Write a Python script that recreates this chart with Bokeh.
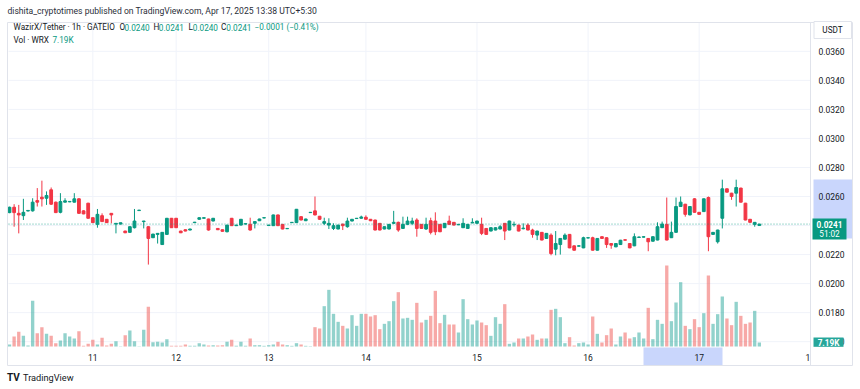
from bokeh.plotting import figure
from bokeh.models import ColumnDataSource, Range1d, Label
from bokeh.core.properties import value
from bokeh.embed import file_html
from bokeh.resources import INLINE

# ---------------- data (WazirX/Tether, 1h, GATEIO) ----------------
bar_index = list(range(163))
opens = [0.02489, 0.02526, 0.02484, 0.02468, 0.02500, 0.02501, 0.02572, 0.02595, 0.02588, 0.02646,
         0.02561, 0.02491, 0.02561, 0.02563, 0.02561, 0.02584, 0.02501, 0.02554, 0.02454, 0.02408,
         0.02468, 0.02443, 0.02484, 0.02410, 0.02410, 0.02362, 0.02353, 0.02385, 0.02503, 0.02427,
         0.02392, 0.02316, 0.02339, 0.02269, 0.02339, 0.02450, 0.02450, 0.02362, 0.02371, 0.02369,
         0.02420, 0.02443, 0.02450, 0.02445, 0.02431, 0.02380, 0.02371, 0.02357, 0.02450, 0.02399,
         0.02403, 0.02410, 0.02408, 0.02415, 0.02433, 0.02452, 0.02400, 0.02399, 0.02473, 0.02408,
         0.02378, 0.02420, 0.02420, 0.02461, 0.02433, 0.02489, 0.02501, 0.02464, 0.02415, 0.02403,
         0.02380, 0.02376, 0.02410, 0.02392, 0.02431, 0.02448, 0.02450, 0.02457, 0.02443, 0.02438,
         0.02415, 0.02376, 0.02376, 0.02415, 0.02422, 0.02380, 0.02408, 0.02415, 0.02438, 0.02408,
         0.02376, 0.02433, 0.02431, 0.02408, 0.02385, 0.02431, 0.02422, 0.02405, 0.02385, 0.02380,
         0.02418, 0.02415, 0.02408, 0.02380, 0.02362, 0.02369, 0.02376, 0.02415, 0.02369, 0.02405,
         0.02403, 0.02378, 0.02403, 0.02369, 0.02334, 0.02353, 0.02311, 0.02334, 0.02237, 0.02269,
         0.02306, 0.02339, 0.02260, 0.02258, 0.02246, 0.02314, 0.02316, 0.02230, 0.02323, 0.02316,
         0.02276, 0.02253, 0.02269, 0.02302, 0.02276, 0.02260, 0.02318, 0.02320, 0.02311, 0.02292,
         0.02300, 0.02385, 0.02408, 0.02316, 0.02353, 0.02531, 0.02547, 0.02473, 0.02584, 0.02491,
         0.02496, 0.02593, 0.02339, 0.02288, 0.02450, 0.02653, 0.02623, 0.02623, 0.02658, 0.02554,
         0.02443, 0.02408, 0.02400]
highs = [0.02530, 0.02547, 0.02542, 0.02584, 0.02506, 0.02588, 0.02658, 0.02709, 0.02635, 0.02662,
         0.02565, 0.02623, 0.02588, 0.02568, 0.02623, 0.02588, 0.02505, 0.02556, 0.02456, 0.02514,
         0.02484, 0.02445, 0.02486, 0.02416, 0.02420, 0.02364, 0.02394, 0.02514, 0.02508, 0.02432,
         0.02394, 0.02343, 0.02348, 0.02355, 0.02452, 0.02452, 0.02452, 0.02364, 0.02373, 0.02378,
         0.02425, 0.02456, 0.02456, 0.02447, 0.02452, 0.02382, 0.02373, 0.02405, 0.02452, 0.02405,
         0.02445, 0.02415, 0.02454, 0.02429, 0.02447, 0.02456, 0.02405, 0.02475, 0.02475, 0.02410,
         0.02382, 0.02424, 0.02514, 0.02463, 0.02447, 0.02493, 0.02600, 0.02466, 0.02454, 0.02450,
         0.02415, 0.02405, 0.02412, 0.02454, 0.02445, 0.02452, 0.02468, 0.02470, 0.02445, 0.02440,
         0.02417, 0.02394, 0.02410, 0.02501, 0.02427, 0.02461, 0.02461, 0.02454, 0.02450, 0.02410,
         0.02454, 0.02454, 0.02491, 0.02410, 0.02417, 0.02468, 0.02424, 0.02410, 0.02450, 0.02410,
         0.02450, 0.02433, 0.02454, 0.02382, 0.02387, 0.02387, 0.02403, 0.02417, 0.02433, 0.02427,
         0.02405, 0.02415, 0.02415, 0.02378, 0.02364, 0.02355, 0.02348, 0.02346, 0.02362, 0.02313,
         0.02346, 0.02341, 0.02262, 0.02264, 0.02323, 0.02318, 0.02323, 0.02313, 0.02325, 0.02318,
         0.02278, 0.02278, 0.02301, 0.02304, 0.02278, 0.02346, 0.02323, 0.02325, 0.02313, 0.02325,
         0.02422, 0.02427, 0.02593, 0.02427, 0.02593, 0.02600, 0.02549, 0.02533, 0.02588, 0.02493,
         0.02586, 0.02600, 0.02355, 0.02371, 0.02716, 0.02655, 0.02625, 0.02716, 0.02660, 0.02556,
         0.02445, 0.02424, 0.02410]
lows = [0.02485, 0.02392, 0.02346, 0.02438, 0.02498, 0.02496, 0.02531, 0.02531, 0.02542, 0.02542,
        0.02486, 0.02484, 0.02559, 0.02561, 0.02559, 0.02480, 0.02478, 0.02448, 0.02418, 0.02385,
        0.02425, 0.02418, 0.02415, 0.02346, 0.02408, 0.02348, 0.02350, 0.02380, 0.02502, 0.02380,
        0.02131, 0.02314, 0.02276, 0.02266, 0.02337, 0.02383, 0.02383, 0.02348, 0.02360, 0.02367,
        0.02418, 0.02441, 0.02448, 0.02365, 0.02429, 0.02369, 0.02358, 0.02353, 0.02397, 0.02397,
        0.02401, 0.02408, 0.02365, 0.02380, 0.02431, 0.02450, 0.02398, 0.02397, 0.02397, 0.02374,
        0.02376, 0.02418, 0.02418, 0.02436, 0.02431, 0.02487, 0.02470, 0.02440, 0.02403, 0.02376,
        0.02369, 0.02374, 0.02369, 0.02385, 0.02429, 0.02446, 0.02448, 0.02441, 0.02431, 0.02367,
        0.02367, 0.02374, 0.02374, 0.02410, 0.02357, 0.02376, 0.02403, 0.02403, 0.02323, 0.02378,
        0.02370, 0.02339, 0.02334, 0.02355, 0.02383, 0.02406, 0.02401, 0.02403, 0.02383, 0.02378,
        0.02416, 0.02413, 0.02334, 0.02337, 0.02360, 0.02367, 0.02374, 0.02300, 0.02367, 0.02392,
        0.02360, 0.02374, 0.02367, 0.02316, 0.02300, 0.02298, 0.02309, 0.02195, 0.02195, 0.02200,
        0.02304, 0.02244, 0.02228, 0.02256, 0.02244, 0.02312, 0.02228, 0.02228, 0.02309, 0.02246,
        0.02240, 0.02251, 0.02267, 0.02297, 0.02244, 0.02258, 0.02316, 0.02318, 0.02223, 0.02290,
        0.02298, 0.02383, 0.02298, 0.02314, 0.02351, 0.02529, 0.02461, 0.02471, 0.02489, 0.02475,
        0.02494, 0.02223, 0.02337, 0.02276, 0.02380, 0.02628, 0.02577, 0.02531, 0.02559, 0.02436,
        0.02420, 0.02392, 0.02400]
closes = [0.02526, 0.02489, 0.02473, 0.02491, 0.02504, 0.02561, 0.02561, 0.02584, 0.02607, 0.02547,
          0.02489, 0.02565, 0.02570, 0.02566, 0.02584, 0.02484, 0.02480, 0.02450, 0.02420, 0.02477,
          0.02427, 0.02420, 0.02473, 0.02415, 0.02419, 0.02350, 0.02392, 0.02431, 0.02506, 0.02431,
          0.02311, 0.02341, 0.02346, 0.02353, 0.02450, 0.02385, 0.02385, 0.02350, 0.02362, 0.02376,
          0.02423, 0.02454, 0.02454, 0.02369, 0.02450, 0.02371, 0.02360, 0.02403, 0.02399, 0.02403,
          0.02443, 0.02413, 0.02369, 0.02427, 0.02445, 0.02454, 0.02403, 0.02473, 0.02399, 0.02376,
          0.02380, 0.02422, 0.02512, 0.02438, 0.02445, 0.02491, 0.02473, 0.02443, 0.02427, 0.02415,
          0.02399, 0.02403, 0.02399, 0.02431, 0.02443, 0.02450, 0.02459, 0.02443, 0.02433, 0.02369,
          0.02369, 0.02392, 0.02408, 0.02422, 0.02369, 0.02408, 0.02431, 0.02431, 0.02380, 0.02380,
          0.02408, 0.02353, 0.02357, 0.02357, 0.02415, 0.02408, 0.02403, 0.02408, 0.02415, 0.02408,
          0.02422, 0.02431, 0.02346, 0.02339, 0.02385, 0.02385, 0.02392, 0.02362, 0.02431, 0.02408,
          0.02362, 0.02382, 0.02369, 0.02339, 0.02362, 0.02300, 0.02346, 0.02207, 0.02276, 0.02311,
          0.02334, 0.02246, 0.02230, 0.02260, 0.02316, 0.02316, 0.02230, 0.02311, 0.02311, 0.02269,
          0.02265, 0.02276, 0.02299, 0.02299, 0.02246, 0.02323, 0.02321, 0.02323, 0.02288, 0.02323,
          0.02392, 0.02410, 0.02300, 0.02353, 0.02531, 0.02561, 0.02477, 0.02531, 0.02491, 0.02477,
          0.02584, 0.02323, 0.02353, 0.02369, 0.02653, 0.02630, 0.02600, 0.02662, 0.02561, 0.02438,
          0.02422, 0.02422, 0.02410]
volume_k = [3.6, 18, 26.4, 19.2, 1.8, 82.2, 24, 34.8, 22.8, 19.2,
            6, 10.8, 24, 18, 14.4, 27.6, 1.2, 4.8, 12, 3.6,
            15.6, 1.8, 4.8, 9.6, 0.6, 20.4, 28.8, 9.6, 0.6, 30,
            71.4, 7.8, 8.4, 7.2, 13.2, 1.2, 1.2, 1.2, 3.6, 1.2,
            1.2, 6, 3.6, 1.8, 2.4, 1.8, 2.4, 8.4, 12, 1.2,
            8.4, 1.2, 14.4, 2.4, 2.4, 1.2, 2.4, 3.6, 8.4, 3.6,
            2.4, 1.2, 6, 3.6, 1.2, 0.6, 34.8, 32.4, 72.6, 102,
            58.8, 44.4, 37.2, 32.4, 56.4, 37.2, 58.8, 58.8, 54, 56.4,
            31.2, 40.8, 45.6, 81.6, 97.8, 50.4, 51.6, 48, 78.6, 43.2,
            48, 55.2, 100.2, 42, 57, 39.6, 39.6, 25.2, 85.2, 49.2,
            39.6, 46.8, 43.2, 38.4, 19.2, 52.8, 40.8, 76.2, 4.8, 7.2,
            14.4, 14.4, 18, 21.6, 12, 14.4, 14.4, 66, 67.8, 52.8,
            6, 16.8, 1.8, 6, 7.2, 3.6, 54, 22.8, 7.2, 20.4,
            32.4, 3.6, 18, 25.2, 14.4, 16.8, 25.2, 14.4, 69.6, 13.2,
            48, 40.8, 145.8, 45.6, 79.2, 115.8, 37.2, 31.2, 49.2, 34.8,
            60, 127.8, 40.8, 58.2, 90, 50.4, 38.4, 80.4, 55.2, 40.8,
            43.2, 64.2, 7.19]
day_tick_index = [18, 36, 56, 77, 101, 125, 149, 173]
day_tick_labels = ["11", "12", "13", "14", "15", "16", "17", "18"]
price_ticks = [0.016, 0.018, 0.020, 0.022, 0.024, 0.026, 0.028, 0.030, 0.032, 0.034, 0.036]
last_price = 0.0241
last_volume_label = "7.19K"
countdown = "51:02"

# ---------------- layout / styles ----------------
UP, DOWN = "#089981", "#F23645"
VUP, VDOWN = "#26a69a", "#ef5350"
TXT = "#131722"
GRID = "#f0f3fa"
BORDER = "#e0e3eb"
BLUE = "#c9d6fc"
FONT = "Roboto"
W, H = 860, 389

# pixel geometry of the TradingView pane (page pixels)
BAR_PX, BAR0_PX = 4.6286, 9.0          # px per bar, x of first bar
REF_PRICE, REF_PY, PX_PER_PRICE = 0.026, 196.0, 14516.0
VOL_BASE_PY, K_PER_PX = 346.0, 1.8
PANE_L, PANE_R, PANE_T, PANE_B, AXIS_B, CHART_R = 8, 810, 22, 347, 365, 852


def dx(px):
    return (px - BAR0_PX) / BAR_PX


def dy(py):
    return REF_PRICE - (py - REF_PY) / PX_PER_PRICE


def py_of(price):
    return REF_PY + (REF_PRICE - price) * PX_PER_PRICE


up = [c >= o for o, c in zip(opens, closes)]
src = ColumnDataSource(dict(
    x=bar_index, o=opens, h=highs, l=lows, c=closes, v=volume_k,
    top=[max(o, c) for o, c in zip(opens, closes)],
    bot=[min(o, c) for o, c in zip(opens, closes)],
    cc=[UP if u else DOWN for u in up],
    vc=[VUP if u else VDOWN for u in up],
))

p = figure(width=W, height=H, output_backend="svg", toolbar_location=None,
           x_range=Range1d(dx(0), dx(W)), y_range=Range1d(dy(H), dy(0)),
           x_axis_location=None, y_axis_location=None,
           min_border=0, min_border_left=0, min_border_right=0,
           min_border_top=0, min_border_bottom=0,
           background_fill_color="white", border_fill_color="white",
           outline_line_color=None)
p.grid.visible = False
p.extra_y_ranges = {"vol": Range1d(-(H - VOL_BASE_PY) * K_PER_PX, VOL_BASE_PY * K_PER_PX)}

# grid lines of the pane
in_pane_days = [t for t in day_tick_index if dx(PANE_L) < t < dx(PANE_R) - 0.5]
p.segment(x0=in_pane_days, x1=in_pane_days, y0=[dy(PANE_T)] * len(in_pane_days),
          y1=[dy(PANE_B)] * len(in_pane_days), line_color=GRID, line_width=1)
p.segment(x0=[dx(PANE_L)] * len(price_ticks), x1=[dx(PANE_R)] * len(price_ticks),
          y0=price_ticks, y1=price_ticks, line_color=GRID, line_width=1)

# volume
p.vbar(x="x", top="v", bottom=0, width=0.72, source=src, y_range_name="vol",
       fill_color="vc", fill_alpha=0.5, line_color=None)

# candles
p.segment(x0="x", y0="l", x1="x", y1="h", source=src, line_color="cc", line_width=1)
p.vbar(x="x", top="top", bottom="bot", width=0.6, source=src,
       fill_color="cc", line_color="cc", line_width=1)

# last price dotted line
p.segment(x0=[dx(PANE_L)], x1=[dx(PANE_R)], y0=[last_price], y1=[last_price],
          line_color=UP, line_dash="1 2", line_alpha=0.75, line_width=1)

# time axis labels
p.text(x=day_tick_index, y=[dy(356.5)] * len(day_tick_index), text=day_tick_labels,
       text_font=value(FONT), text_font_size="8.5px", text_color=TXT,
       text_align="center", text_baseline="middle")

# price axis panel (white, covers the overflow of the last time label)
p.quad(left=[dx(PANE_R)], right=[dx(CHART_R)], top=[dy(PANE_T)], bottom=[dy(AXIS_B)],
       fill_color="white", line_color=None)
# selection highlights
p.quad(left=[dx(813)], right=[dx(CHART_R)], top=[dy(179)], bottom=[dy(238)],
       fill_color=BLUE, line_color=None)
p.quad(left=[dx(643)], right=[dx(722)], top=[dy(PANE_B)], bottom=[dy(AXIS_B)],
       fill_color=BLUE, line_color=None)
# redraw label 17 over its highlight
p.text(x=[day_tick_index[6]], y=[dy(356.5)], text=[day_tick_labels[6]],
       text_font=value(FONT), text_font_size="8.5px", text_color=TXT,
       text_align="center", text_baseline="middle")

# price axis labels
p.text(x=[dx(818)] * len(price_ticks), y=price_ticks, text=["%.4f" % t for t in price_ticks],
       text_font=value(FONT), text_font_size="8.5px", text_color=TXT,
       text_align="left", text_baseline="middle")

# borders
p.quad(left=[dx(7)], right=[dx(CHART_R)], top=[dy(PANE_T)], bottom=[dy(AXIS_B)],
       fill_color=None, line_color=BORDER, line_width=1)
p.segment(x0=[dx(PANE_R)], x1=[dx(PANE_R)], y0=[dy(PANE_T)], y1=[dy(AXIS_B)],
          line_color=BORDER, line_width=1)

# USDT box
p.quad(left=[dx(813.5)], right=[dx(851)], top=[dy(21)], bottom=[dy(38)],
       fill_color="white", line_color=BORDER, line_width=1)

# last price box
lp = py_of(last_price)
p.quad(left=[dx(812)], right=[dx(846)], top=[dy(lp - 5.5)], bottom=[dy(lp + 15.3)],
       fill_color=UP, line_color=None)
# last volume box
vpy = VOL_BASE_PY - volume_k[-1] / K_PER_PX
p.quad(left=[dx(813)], right=[dx(843)], top=[dy(vpy - 5)], bottom=[dy(vpy + 4.3)],
       fill_color=VUP, line_color=None)


def lab(px, py, text, color=TXT, size="8.2px", bold=False, align="left"):
    p.add_layout(Label(x=px, y=H - py, x_units="screen", y_units="screen",
                       text=text, text_color=color, text_font=FONT,
                       text_font_size=size, text_font_style="bold" if bold else "normal",
                       text_align=align, text_baseline="middle"))


lab(832, 29.5, "USDT", align="center")
lab(829, lp + 0.6, "%.4f" % last_price, color="white", bold=True, align="center")
lab(829, lp + 9.8, countdown, color="white", align="center")
lab(828, vpy, last_volume_label, color="white", bold=True, align="center")

# header / legend
lab(7, 10, "dishita_cryptotimes published on TradingView.com, Apr 17, 2025 13:38 UTC+5:30",
    color="#2a2e39", size="8.6px")
lab(13, 26.5, "WazirX/Tether · 1h · GATEIO")
for px, letter, vx, val in [(119, "O", 124, "0.0240"), (153, "H", 158.3, "0.0241"),
                            (188, "L", 192.3, "0.0240"), (220.5, "C", 225.8, "0.0241")]:
    lab(px, 26.5, letter)
    lab(vx, 26.5, val, color=UP)
lab(254, 26.5, "−0.0001 (−0.41%)", color=UP)
lab(13, 39.7, "Vol · WRX")
lab(52, 39.7, last_volume_label, color=UP)

# watermark
lab(6.5, 377, "TV", size="10px", bold=True)
lab(22.5, 377, "TradingView", size="9.2px")

open("out.html", "w").write(file_html(p, INLINE))
